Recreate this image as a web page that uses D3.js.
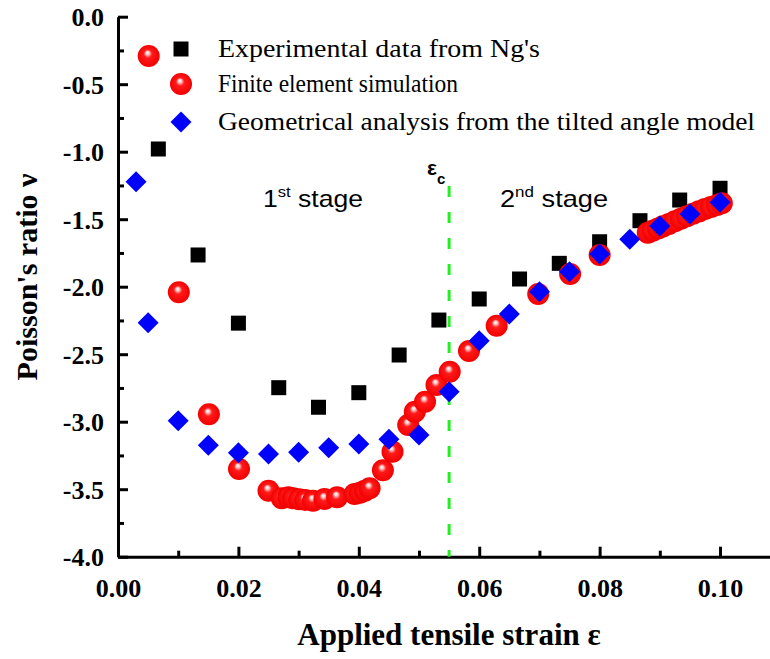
<!DOCTYPE html>
<html lang="en">
<head>
<meta charset="utf-8">
<script src="https://d3js.org/d3.v7.min.js"></script>
<style>
  body { margin: 0; background: #fff; }
  svg { display: block; }
</style>
</head>
<body>
<svg id="chart" width="770" height="659"></svg>
<script>
// Experimental data from Ng's (black squares)
const expX = [0.0067, 0.0133, 0.02, 0.0267, 0.0333, 0.04, 0.0467, 0.0533, 0.06, 0.0667, 0.0733, 0.08, 0.0867, 0.0933, 0.1];
const expY = [-0.98, -1.765, -2.27, -2.748, -2.893, -2.785, -2.506, -2.247, -2.091, -1.943, -1.827, -1.667, -1.511, -1.358, -1.271];

// Finite element simulation (red balls)
const feX = [0.0051, 0.0101, 0.0151, 0.0201, 0.025, 0.0272, 0.0283, 0.0291, 0.0301, 0.0311, 0.0324, 0.0343, 0.0364,
  0.0393, 0.0402, 0.041, 0.0418, 0.044, 0.0456, 0.0482, 0.0493, 0.051, 0.0529, 0.0551, 0.0583, 0.0629, 0.0698,
  0.0751, 0.08, 0.088, 0.0888, 0.0897, 0.0905, 0.0915, 0.0925, 0.0935, 0.0945, 0.0955, 0.0965, 0.0975, 0.0985, 0.0995, 0.1003];
const feY = [-0.291, -2.041, -2.945, -3.35, -3.511, -3.567, -3.56, -3.567, -3.575, -3.58, -3.585, -3.572, -3.56,
  -3.535, -3.526, -3.511, -3.493, -3.36, -3.222, -3.024, -2.926, -2.852, -2.728, -2.63, -2.476, -2.289, -2.054,
  -1.906, -1.765, -1.6, -1.585, -1.568, -1.553, -1.535, -1.515, -1.497, -1.478, -1.46, -1.442, -1.425, -1.41, -1.395, -1.382];

// Geometrical analysis from the tilted angle model (blue diamonds)
const geoX = [0.003, 0.005, 0.01, 0.015, 0.02, 0.025, 0.03, 0.035, 0.04, 0.045, 0.05, 0.055, 0.06, 0.065, 0.07, 0.075, 0.08, 0.085, 0.09, 0.095, 0.1];
const geoY = [-1.222, -2.267, -2.993, -3.175, -3.23, -3.24, -3.227, -3.193, -3.165, -3.13, -3.099, -2.778, -2.4, -2.202, -2.037, -1.889, -1.758, -1.649, -1.55, -1.461, -1.375];

const xTicks = [0, 0.02, 0.04, 0.06, 0.08, 0.10];
const yTicks = [0, -0.5, -1.0, -1.5, -2.0, -2.5, -3.0, -3.5, -4.0];
const epsC = 0.055;

const legendLabels = ["Experimental data from Ng's", "Finite element simulation", "Geometrical analysis from the tilted angle model"];

const svg = d3.select("#chart");
const serif = "'Liberation Serif', 'Times New Roman', serif";
const sans = "'Liberation Sans', Arial, sans-serif";

const x = d3.scaleLinear().domain([0, 0.1083]).range([118, 770]);
const y = d3.scaleLinear().domain([-4, 0]).range([556.7, 16.7]);

// gradient for the shiny red balls
const defs = svg.append("defs");
const grad = defs.append("radialGradient").attr("id", "ball")
  .attr("cx", "0.5").attr("cy", "0.5").attr("r", "0.5")
  .attr("fx", "0.44").attr("fy", "0.34");
grad.append("stop").attr("offset", "0").attr("stop-color", "#ffffff");
grad.append("stop").attr("offset", "0.14").attr("stop-color", "#ffd0d0");
grad.append("stop").attr("offset", "0.38").attr("stop-color", "#ff1a1a");
grad.append("stop").attr("offset", "1").attr("stop-color", "#f20000");

// axes (ticks pointing inward), labels with plain hyphen minus
const fmt = n => (d => d.toFixed(n));
const xAxis = svg.append("g").attr("transform", `translate(0,${y(-4)})`)
  .call(d3.axisBottom(x).tickValues(xTicks).tickSizeInner(-10).tickSizeOuter(0).tickPadding(22)
    .tickFormat(fmt(2)));
svg.append("g").attr("transform", `translate(0,${y(-4)})`)
  .call(d3.axisBottom(x).tickValues([0.01, 0.03, 0.05, 0.07, 0.09]).tickSizeInner(-6).tickSizeOuter(0).tickFormat(""))
  .call(g => g.select(".domain").remove());

const yAxis = svg.append("g").attr("transform", `translate(${x(0)},0)`)
  .call(d3.axisLeft(y).tickValues(yTicks).tickSizeInner(-10).tickSizeOuter(0).tickPadding(14)
    .tickFormat(fmt(1)));
svg.append("g").attr("transform", `translate(${x(0)},0)`)
  .call(d3.axisLeft(y).tickValues([-0.25, -0.75, -1.25, -1.75, -2.25, -2.75, -3.25, -3.75]).tickSizeInner(-6).tickSizeOuter(0).tickFormat(""))
  .call(g => g.select(".domain").remove());

svg.selectAll(".domain, .tick line").attr("stroke", "#000").attr("stroke-width", 3);
svg.selectAll(".tick text").attr("fill", "#000").attr("font-family", serif)
  .attr("font-weight", "bold").attr("font-size", 26);
yAxis.selectAll(".tick text").attr("dy", "0.34em");

// axis titles
svg.append("text").attr("x", 449).attr("y", 645).attr("text-anchor", "middle")
  .attr("font-family", serif).attr("font-weight", "bold").attr("font-size", 31)
  .text("Applied tensile strain ε");
svg.append("text").attr("transform", "translate(37,277) rotate(-90)").attr("text-anchor", "middle")
  .attr("font-family", serif).attr("font-weight", "bold").attr("font-size", 30)
  .text("Poisson's ratio ν");

// critical strain line
svg.append("line").attr("x1", x(epsC)).attr("x2", x(epsC)).attr("y1", 186).attr("y2", y(-4))
  .attr("stroke", "#22ee22").attr("stroke-width", 3).attr("stroke-dasharray", "11,15");
const ec = svg.append("text").attr("x", x(epsC) - 22).attr("y", 175)
  .attr("font-family", sans).attr("font-weight", "bold").attr("font-size", 21);
ec.append("tspan").text("ε");
ec.append("tspan").attr("dy", 9).attr("font-size", 15).text("c");

// stage labels
function stage(px, num, sup, w) {
  const t = svg.append("text").attr("x", px).attr("y", 207)
    .attr("font-family", sans).attr("font-size", 24)
    .attr("textLength", w).attr("lengthAdjust", "spacingAndGlyphs");
  t.append("tspan").text(num);
  t.append("tspan").attr("dy", -10).attr("font-size", 15).text(sup);
  t.append("tspan").attr("dy", 10).text(" stage");
}
stage(263, "1", "st", 100);
stage(500, "2", "nd", 108);

// markers
const sq = 15, rb = 11, dm = 10.5;
const diamond = `M0,${-dm}L${dm},0L0,${dm}L${-dm},0Z`;

svg.append("g").selectAll("rect").data(d3.zip(expX, expY)).join("rect")
  .attr("x", d => x(d[0]) - sq / 2).attr("y", d => y(d[1]) - sq / 2)
  .attr("width", sq).attr("height", sq).attr("fill", "#000");

svg.append("g").selectAll("circle").data(d3.zip(feX, feY)).join("circle")
  .attr("cx", d => x(d[0])).attr("cy", d => y(d[1])).attr("r", rb).attr("fill", "url(#ball)");

svg.append("g").selectAll("path").data(d3.zip(geoX, geoY)).join("path")
  .attr("transform", d => `translate(${x(d[0])},${y(d[1])})`).attr("d", diamond).attr("fill", "#0000ff");

// legend
const legY = [49, 84, 122];
const leg = svg.append("g");
leg.append("rect").attr("x", 181 - sq / 2).attr("y", legY[0] - sq / 2).attr("width", sq).attr("height", sq).attr("fill", "#000");
leg.append("circle").attr("cx", 181).attr("cy", legY[1]).attr("r", rb).attr("fill", "url(#ball)");
leg.append("path").attr("transform", `translate(181,${legY[2]})`).attr("d", diamond).attr("fill", "#0000ff");
const legW = [322, 240, 537];
leg.selectAll("text").data(legendLabels).join("text")
  .attr("x", 218).attr("y", (d, i) => legY[i] + 8)
  .attr("font-family", serif).attr("font-size", 25)
  .attr("textLength", (d, i) => legW[i]).attr("lengthAdjust", "spacingAndGlyphs")
  .text(d => d);
</script>
</body>
</html>
